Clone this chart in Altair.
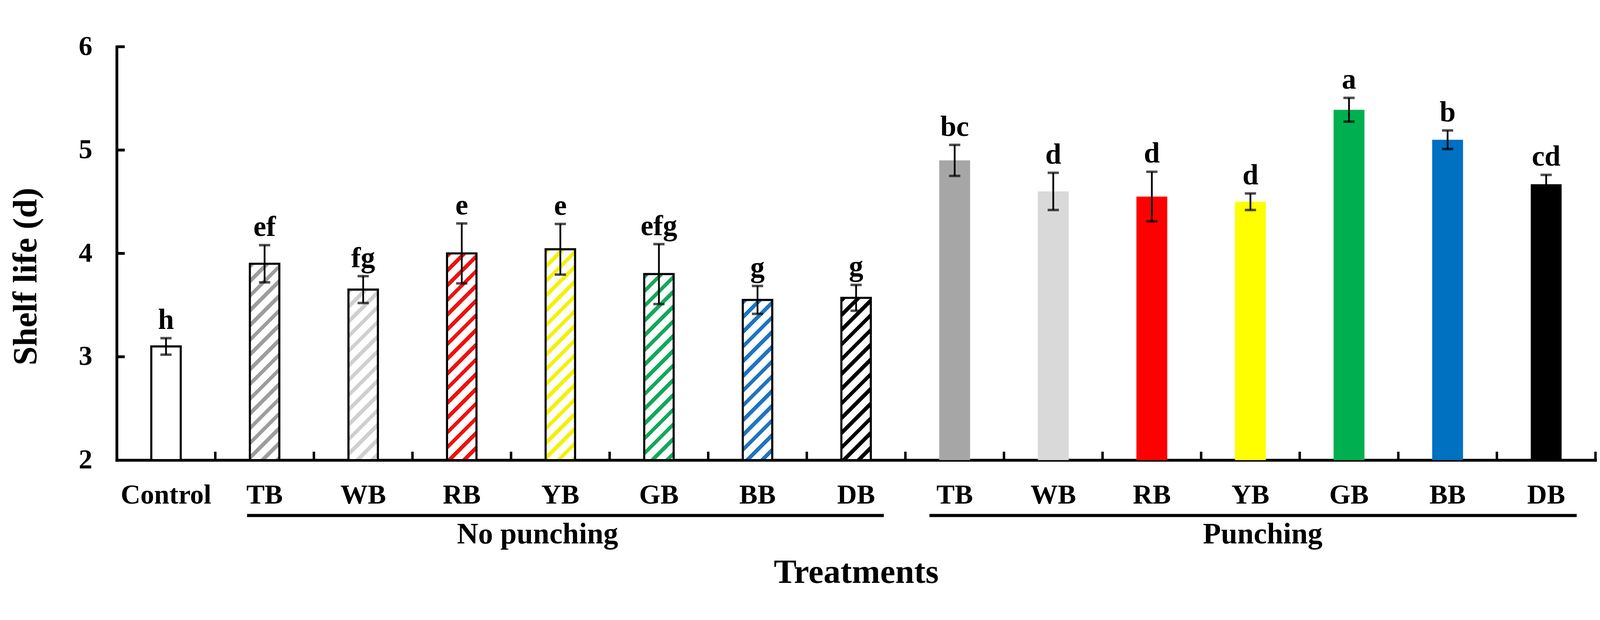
import altair as alt
import pandas as pd

# ---------------- data ----------------
treatments = ["Control", "TB", "WB", "RB", "YB", "GB", "BB", "DB",
              "TB", "WB", "RB", "YB", "GB", "BB", "DB"]
groups = [""] + ["No punching"] * 7 + ["Punching"] * 7
shelf_life = [3.10, 3.90, 3.65, 4.00, 4.04, 3.80, 3.55, 3.57,
              4.90, 4.60, 4.55, 4.50, 5.39, 5.10, 4.67]
errors = [0.08, 0.18, 0.13, 0.29, 0.245, 0.29, 0.135, 0.125,
          0.15, 0.18, 0.24, 0.08, 0.115, 0.09, 0.09]
letters = ["h", "ef", "fg", "e", "e", "efg", "g", "g",
           "bc", "d", "d", "d", "a", "b", "cd"]
bag_names = ["TB", "WB", "RB", "YB", "GB", "BB", "DB"]
solid_colors = ["#a6a6a6", "#d9d9d9", "#ff0000", "#ffff00", "#00b050", "#0070c0", "#000000"]
stripe_colors = ["#9d9d9d", "#cfcfcf", "#ee1111", "#f2f200", "#12a85a", "#1f74c0", "#000000"]
y_ticks = [2, 3, 4, 5, 6]
group_names = ["No punching", "Punching"]

# ---------------- layout / style constants ----------------
PW, PH = 4218, 1179
Y_MIN, Y_MAX = 2, 6
FONT = "Liberation Serif"
HATCH_W, SOLID_W = 84, 88

keys = [f"{g}|{t}" for g, t in zip(groups, treatments)]
df = pd.DataFrame({"key": keys, "treat": treatments, "group": groups,
                   "mean": shelf_life, "err": errors, "letter": letters})
df["hi"] = df["mean"] + df["err"]
df["lo"] = df["mean"] - df["err"]

xscale = alt.Scale(type="band", domain=keys, paddingInner=0, paddingOuter=0)
xaxis = alt.Axis(labelExpr="split(datum.label, '|')[1]", labelAngle=0,
                 labelFont=FONT, labelFontSize=78, labelFontWeight="bold",
                 labelColor="black", labelBaseline="alphabetic", labelPadding=123,
                 labelLimit=0, labelOverlap=False,
                 ticks=False, tickSize=0, domainWidth=8, domainColor="black",
                 domainCap="square", grid=False,
                 title="Treatments", titleFont=FONT, titleFontSize=97,
                 titleFontWeight="bold", titleColor="black",
                 titleX=PW / 2, titleY=350, titleAlign="center",
                 titleBaseline="alphabetic")
yscale = alt.Scale(domain=[Y_MIN, Y_MAX], zero=False, nice=False)
yaxis = alt.Axis(values=y_ticks, format="d", labelFont=FONT, labelFontSize=78,
                 labelFontWeight="bold", labelColor="black", labelPadding=70,
                 ticks=False, tickSize=0, domainWidth=8, domainColor="black",
                 domainCap="square", grid=False,
                 title="Shelf life (d)", titleFont=FONT, titleFontSize=97,
                 titleFontWeight="bold", titleColor="black", titleAngle=270,
                 titleX=-230, titleY=655, titleAlign="center",
                 titleBaseline="alphabetic", titleLimit=3000)


def X(**kw):
    return alt.X("key:N", sort=keys, scale=xscale, axis=xaxis, **kw)


def Y(field):
    return alt.Y(f"{field}:Q", scale=yscale, axis=yaxis)


def hatch(color, W, H, period=42.0, frac=0.36):
    L = W + H
    k = L / (W * W + H * H)
    p = period / L
    stops = []
    s = 0.0
    while s < 1.0:
        b = min(s + frac * p, 1.0)
        c = min(s + p, 1.0)
        stops += [{"offset": round(s, 5), "color": color},
                  {"offset": round(b, 5), "color": color},
                  {"offset": round(b, 5), "color": "white"},
                  {"offset": round(c, 5), "color": "white"}]
        s += p
    return {"gradient": "linear", "x1": 0, "y1": 0,
            "x2": round(W * k, 5), "y2": round(H * k, 5), "stops": stops}


base = alt.Chart(df)
layers = []

# control bar
layers.append(
    base.transform_filter(alt.FieldEqualPredicate(field="key", equal=keys[0]))
    .mark_bar(width=HATCH_W, fill="white", stroke="black", strokeWidth=6)
    .encode(x=X(), y=Y("mean"), y2=alt.datum(Y_MIN))
)

# hatched (no punching) bars, one gradient per bar
px_per_unit = PH / (Y_MAX - Y_MIN)
for i in range(1, 8):
    H = (shelf_life[i] - Y_MIN) * px_per_unit
    col = stripe_colors[bag_names.index(treatments[i])]
    layers.append(
        base.transform_filter(alt.FieldEqualPredicate(field="key", equal=keys[i]))
        .mark_bar(width=HATCH_W, fill=hatch(col, HATCH_W, H),
                  stroke="black", strokeWidth=6)
        .encode(x=X(), y=Y("mean"), y2=alt.datum(Y_MIN))
    )

# solid (punching) bars
layers.append(
    base.transform_filter(alt.FieldEqualPredicate(field="group", equal="Punching"))
    .mark_bar(width=SOLID_W, strokeWidth=0)
    .encode(x=X(), y=Y("mean"), y2=alt.datum(Y_MIN),
            color=alt.Color("treat:N", scale=alt.Scale(domain=bag_names, range=solid_colors),
                            legend=None))
)

# error bars
layers.append(base.mark_rule(color="black", strokeWidth=5)
              .encode(x=X(), y=Y("lo"), y2="hi:Q"))
layers.append(base.mark_tick(color="black", size=32, thickness=7)
              .encode(x=X(), y=Y("hi")))
layers.append(base.mark_tick(color="black", size=32, thickness=7)
              .encode(x=X(), y=Y("lo")))

# significance letters
layers.append(base.mark_text(font=FONT, fontSize=82, fontWeight="bold", color="black",
                             baseline="alphabetic", dy=-26)
              .encode(x=X(), y=Y("hi"), text="letter:N"))

# inward y ticks
layers.append(alt.Chart(pd.DataFrame({"t": y_ticks[1:]}))
              .mark_rule(color="black", strokeWidth=8)
              .encode(y=Y("t"), x=alt.value(0), x2=alt.value(23)))

# inward x ticks at category boundaries
layers.append(base.mark_rule(color="black", strokeWidth=7)
              .encode(x=X(bandPosition=1), y=alt.value(PH), y2=alt.value(PH - 24)))

# group underlines and labels
group_first = [keys[groups.index(g)] for g in group_names]
group_last = [keys[len(groups) - 1 - groups[::-1].index(g)] for g in group_names]
group_mid = [keys[groups.index(g) + 3] for g in group_names]
line_offsets = [(-50, 79), (-72, 87)]
label_dx = [-65, 35]
for j, g in enumerate(group_names):
    gdf = pd.DataFrame({"key": [group_first[j]], "key2": [group_last[j]]})
    layers.append(alt.Chart(gdf)
                  .mark_rule(color="black", strokeWidth=9,
                             xOffset=line_offsets[j][0], x2Offset=line_offsets[j][1])
                  .encode(x=X(), x2="key2:N", y=alt.value(1337)))
    ldf = pd.DataFrame({"key": [group_mid[j]], "name": [g]})
    layers.append(alt.Chart(ldf)
                  .mark_text(font=FONT, fontSize=84, fontWeight="bold", color="black",
                             baseline="alphabetic", dx=label_dx[j])
                  .encode(x=X(), y=alt.value(1417), text="name:N"))

chart = (alt.layer(*layers)
         .properties(width=PW, height=PH,
                     autosize=alt.AutoSizeParams(type="none"),
                     padding={"left": 324, "top": 35, "right": 4, "bottom": 350},
                     background="white")
         .configure_view(strokeWidth=0))

chart.save("out.html", embed_options={"renderer": "svg", "actions": False})
